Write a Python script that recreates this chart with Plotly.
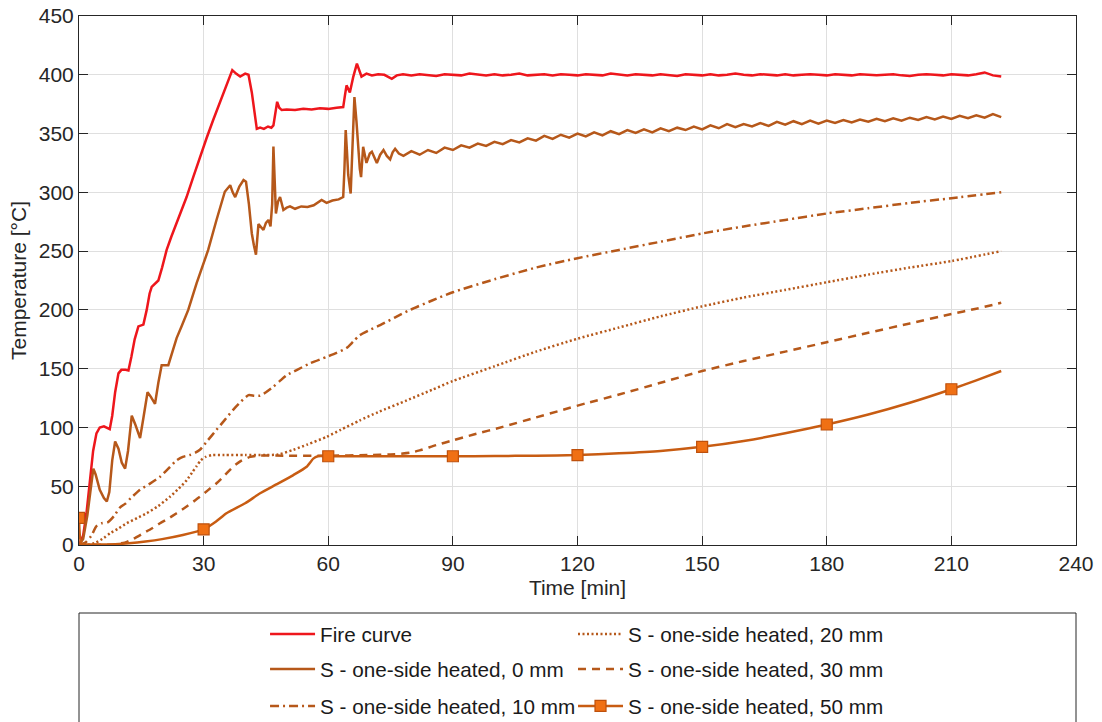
import plotly.graph_objects as go

# ---------------- data ----------------
fire_time = [0, 1, 1.8, 2.6, 3.4, 4.2, 5.0, 6.0, 7.0, 7.4, 8.0, 8.7, 9.5, 10.2, 11.2, 11.9,
             12.6, 13.4, 14.3, 15.5, 16.3, 17.0, 17.5, 18.3, 19.1, 20.0, 21.1, 22.2, 23.5,
             24.7, 25.9, 27.5, 29.1, 30.7, 32.3, 34.0, 35.6, 36.9, 37.8, 38.8, 40.0, 40.8,
             41.6, 42.3, 42.8, 43.6, 44.5, 45.5, 46.3, 46.8, 47.3, 47.7, 48.2, 48.8, 50, 52,
             54, 56, 58, 60, 62, 63.6, 64.0, 64.4, 65.2, 66.0, 66.9, 67.5, 68.0, 69.2, 70.5,
             72, 73.5, 75.3, 76.5,
             78, 80, 82, 84, 86, 88, 90, 92, 94, 96, 98, 100, 102, 104, 106, 108, 110, 112,
             114, 116, 118, 120, 122, 124, 126, 128, 130, 132, 134, 136, 138, 140, 142, 144,
             146, 148, 150, 152, 154, 156, 158, 160, 162, 164, 166, 168, 170, 172, 174, 176,
             178, 180, 182, 184, 186, 188, 190, 192, 194, 196, 198, 200, 202, 204, 206, 208,
             210, 212, 214, 216, 218, 220, 222]
fire_temp = [0, 8, 27, 55, 80, 95, 100, 101, 99, 98.5, 110, 130, 146, 149, 149, 148.5,
             160, 175, 186, 187.5, 200, 214, 219.5, 222, 225, 236, 251, 262, 274,
             285, 296, 313, 330, 346, 361.5, 377, 393, 404, 401, 398.5, 401, 400,
             385, 365, 354, 355, 354, 356, 355, 357, 370, 377, 372, 370, 370.5, 370,
             371, 370.5, 371.5, 371, 372, 372.5, 382, 391, 385, 398, 409.5, 404, 398.5, 401, 399.5,
             400.5, 400, 396.5, 399.5,
             400.5, 399.5, 400.5, 400, 399, 400.5, 400, 399.5, 401, 400, 399.5, 400.5, 399.5, 400, 401, 399.5, 400, 400.5,
             399.5, 400.5, 400, 399.5, 400.5, 400, 399.5, 401, 400, 399.5, 400.5, 400, 399.5, 400.5, 400, 399,
             400.5, 400, 399.5, 400.5, 399.5, 400, 401, 400, 399.5, 400.5, 400, 399.5, 400.5, 399.5, 400, 400.5,
             400, 399.5, 400.5, 400, 399.5, 400.5, 400, 399.5, 400, 400.5, 399.5, 399, 400, 400.5, 400, 399.5,
             400.5, 400, 399.5, 400.5, 402, 399.5, 398.5]

s0_time = [0, 1, 2, 2.8, 3.45, 4, 5, 6, 6.7, 7.3, 8, 8.7, 9.5, 10.3, 11.1, 11.8, 12.7, 13.5,
           14.7, 15.5, 16.5, 17.3, 18.3, 19.1, 19.9, 21.5, 22.5, 23.5, 24.7, 26.3, 28.3, 30,
           31.1, 33.1, 35.1, 36.4, 37.0, 37.6, 38.6, 39.6, 40.2, 40.9, 41.6, 42.1, 42.6, 43.2,
           43.8, 44.4, 45.0, 45.6, 46.1, 46.5, 46.8, 47.1, 47.4, 47.9, 48.4, 49.2, 50, 50.8,
           52, 53.5, 55, 56.5, 57.5, 58.4, 59.6, 61, 62.5, 63.6, 63.9, 64.2, 64.5, 64.8, 65.4,
           65.9, 66.3, 66.8, 67.2, 67.6, 67.9, 68.4, 69.2, 70, 70.5, 71.1, 71.7, 72.5, 73.3,
           74.1, 74.9, 75.5, 76.1, 77, 78.1,
           80, 82, 84, 86, 88, 90, 92, 94, 96, 98, 100, 102, 104, 106, 108, 110, 112, 114,
           116, 118, 120, 122, 124, 126, 128, 130, 132, 134, 136, 138, 140, 142, 144, 146,
           148, 150, 152, 154, 156, 158, 160, 162, 164, 166, 168, 170, 172, 174, 176, 178,
           180, 182, 184, 186, 188, 190, 192, 194, 196, 198, 200, 202, 204, 206, 208, 210,
           212, 214, 216, 218, 220, 222]
s0_temp = [0, 5, 25, 50, 65, 60, 47, 40, 37, 45, 72, 88, 82, 70, 65, 80, 110, 103,
           91, 108, 130, 126, 120, 138, 153, 153, 165, 176, 186, 200, 222.5, 240,
           251, 276.5, 300.5, 306, 300, 296, 305, 310.5, 309, 290, 265, 255, 247, 273,
           270, 268, 274, 276.5, 271, 290, 339, 310, 282, 292, 296, 285, 287, 288,
           286, 288, 287.5, 289, 291, 293.5, 291, 293, 294, 296, 320, 353, 335, 315, 299,
           340, 381, 360, 336, 320, 313, 338.8, 325, 333, 334.5, 330, 325, 332, 336,
           331, 328, 334, 337, 333, 331,
           335, 332, 336, 333.5, 338, 336, 340, 338, 341.5, 339.5, 343, 341, 344.5, 342.5, 346, 344, 348, 345.5,
           349, 346.5, 350, 347.5, 351, 348.5, 352, 349.5, 353, 350.5, 353.5, 351, 354.5, 352, 355, 353,
           356, 353.5, 357, 354.5, 358, 355.5, 358, 356, 359, 356.5, 360, 357.5, 360.5, 358, 361, 358.5,
           361, 359, 361.5, 359.5, 362, 360, 362.5, 360.5, 363, 361, 363.5, 361.5, 364, 362, 364.5, 362.5,
           365, 363, 365.5, 363.5, 366.5, 364]

s10_time = [0, 1.5, 3, 4.2, 5.5, 7, 8.5, 9.9, 11.1, 12.5, 14.7, 17, 19.5, 21.5, 23.5, 25, 26.7,
            28, 29.1, 31, 33.1, 35, 37.1, 39, 40.8, 42.2, 43.6, 45, 46.8, 48.5, 50, 52.5, 55.6,
            59.6, 62, 64.4, 66, 67.6, 70, 72.5, 76, 79.7, 85, 90, 100, 110, 120, 130, 140, 150,
            160, 170, 180, 190, 200, 210, 222]
s10_temp = [0, 2, 8, 16, 18.5, 19.5, 25, 32, 35, 40, 47, 52, 58, 65, 72, 75, 76.6,
            78.5, 81, 89, 98, 106, 115, 122, 127.5, 127, 127, 130, 134.7, 140, 144.5, 149, 154.5,
            160, 163.5, 167.5, 173, 178.5, 183, 187, 193.5, 200, 208, 215, 226, 236, 244, 251, 258, 265,
            271, 276.5, 282, 286.5, 291, 295, 300]

s20_time = [0, 2, 4, 6, 7.5, 9.5, 11.5, 14, 16.3, 19, 21.9, 24, 25.9, 27.3, 28.3, 29.3, 30.5,
            32, 35, 40, 45, 48, 51.6, 55, 59.6, 63, 67.6, 72, 78.9, 85, 90, 100, 110, 120, 130,
            140, 150, 160, 170, 180, 190, 200, 210, 222]
s20_temp = [0, 0, 2, 6, 10, 14, 18.5, 23, 27, 33, 41, 48, 55, 62, 67, 72, 75,
            76.5, 76.5, 76.5, 76.5, 77, 81, 85.5, 92, 98, 106, 113, 123, 132, 139.5, 152, 164.5, 175.5, 185,
            194.5, 203, 210.5, 217, 223.5, 230, 236, 241.5, 250]

s30_time = [0, 3, 8, 11, 13, 15.5, 17.5, 19.5, 21.5, 23.5, 26, 29.1, 31, 33.1, 35, 37.1, 39,
            41.2, 43, 50, 60, 70, 75, 79.7, 82, 86, 90, 95, 102, 110, 116, 122, 130, 140, 150,
            160, 170, 180, 190, 200, 210, 216, 222]
s30_temp = [0, 0, 0.5, 2, 5, 10, 14, 18.5, 22.5, 27, 33, 41, 46.5, 52.5, 59, 66.6, 71.5,
            75, 76, 76, 76, 76.5, 77, 78.5, 80.5, 85, 89, 94, 100.5, 108.5, 114.5, 120.5, 128, 138, 148,
            156.5, 164.5, 172.5, 180.5, 188.5, 196.5, 201, 206]

s50_time = [0, 0.6, 3, 8, 12, 16, 20, 25, 30, 33, 35.5, 40, 43.6, 47.5, 51.6, 54.8, 56.4, 57.5,
            60, 70, 80, 90, 100, 110, 120, 130, 140, 150, 160, 170, 180, 190, 200, 210, 216, 222]
s50_temp = [23, 1, 0.5, 0.5, 1.5, 3, 5, 8.5, 13.3, 20, 27, 35.5, 44, 51.5, 59.5, 66.6, 73.5, 75.5,
            75.5, 75.5, 75.5, 75.5, 75.7, 76, 76.5, 78, 80, 83.5, 88.5, 95, 102.5, 111, 121, 132.5, 140, 148]
s50_marker_times = [0, 30, 60, 90, 120, 150, 180, 210]

x_ticks = [0, 30, 60, 90, 120, 150, 180, 210, 240]
y_ticks = [0, 50, 100, 150, 200, 250, 300, 350, 400, 450]

# ---------------- styles ----------------
RED = "rgb(238,22,28)"
BROWN = "rgb(182,88,26)"
ORANGE_LINE = "rgb(200,92,18)"
MARK_FILL = "rgb(240,112,20)"
MARK_EDGE = "rgb(190,80,12)"
AX = "#262626"
FONT = "Liberation Sans, Arial, Helvetica, sans-serif"
LW = 2.5

fig = go.Figure()

fig.add_trace(go.Scatter(x=fire_time, y=fire_temp, mode="lines", name="Fire curve",
                         line=dict(color=RED, width=LW), legend="legend", showlegend=True))
fig.add_trace(go.Scatter(x=s0_time, y=s0_temp, mode="lines", name="S - one-side heated, 0 mm",
                         line=dict(color=BROWN, width=LW), legend="legend2", showlegend=True))
fig.add_trace(go.Scatter(x=s10_time, y=s10_temp, mode="lines", name="S - one-side heated, 10 mm",
                         line=dict(color=BROWN, width=LW, dash="9px,4px,2px,4px", shape="spline",
                                   smoothing=0.6), legend="legend3", showlegend=True))
fig.add_trace(go.Scatter(x=s20_time, y=s20_temp, mode="lines", name="S - one-side heated, 20 mm",
                         line=dict(color=BROWN, width=LW, dash="2px,2.5px", shape="spline",
                                   smoothing=0.6), legend="legend4", showlegend=True))
fig.add_trace(go.Scatter(x=s30_time, y=s30_temp, mode="lines", name="S - one-side heated, 30 mm",
                         line=dict(color=BROWN, width=LW, dash="8px,6px", shape="spline",
                                   smoothing=0.6), legend="legend5", showlegend=True))
marker_idx = [s50_time.index(t) for t in s50_marker_times]
fig.add_trace(go.Scatter(x=s50_time, y=s50_temp, mode="lines+markers", name="S - one-side heated, 50 mm",
                         line=dict(color=ORANGE_LINE, width=LW, shape="spline", smoothing=0.5),
                         marker=dict(symbol="square", size=11, color=MARK_FILL,
                                     line=dict(color=MARK_EDGE, width=1.2)),
                         selectedpoints=marker_idx,
                         selected=dict(marker=dict(opacity=1)),
                         unselected=dict(marker=dict(opacity=0)),
                         legend="legend6", showlegend=True))

axis_common = dict(showline=True, linecolor=AX, linewidth=1, mirror="allticks",
                   ticks="inside", ticklen=9, tickcolor=AX, tickwidth=1,
                   showgrid=True, gridcolor="#dfdfdf", gridwidth=1, zeroline=False,
                   tickfont=dict(family=FONT, size=21, color=AX))

fig.update_xaxes(range=[0, 240], tickvals=x_ticks, ticktext=[str(v) for v in x_ticks],
                 title=dict(text="Time [min]", font=dict(family=FONT, size=21, color=AX), standoff=6),
                 **axis_common)
fig.update_yaxes(range=[0, 450], tickvals=y_ticks, ticktext=[str(v) for v in y_ticks],
                 title=dict(text="Temperature [°C]", font=dict(family=FONT, size=21, color=AX), standoff=6),
                 **axis_common)

# two legend columns, three rows; one legend per entry
col_x = [0.1866, 0.4955]
row_y = [(545 - 634) / 529, (545 - 669) / 529, (545 - 706) / 529]
legend_common = dict(orientation="h", xanchor="left", yanchor="middle",
                     bgcolor="rgba(0,0,0,0)", borderwidth=0, itemwidth=45,
                     font=dict(family=FONT, size=20.7, color="#1a1a1a"))
legend_layout = {}
names = ["legend", "legend2", "legend3", "legend4", "legend5", "legend6"]
for i, nm in enumerate(names):
    legend_layout[nm] = dict(x=col_x[i // 3], y=row_y[i % 3], **legend_common)

fig.update_layout(
    width=1102, height=722,
    showlegend=True,
    margin=dict(l=79, r=26, t=16, b=177, autoexpand=False),
    paper_bgcolor="white", plot_bgcolor="white",
    font=dict(family=FONT, size=21, color=AX),
    shapes=[dict(type="rect", xref="paper", yref="paper", x0=0, x1=1,
                 y0=(545 - 613) / 529, y1=(545 - 760) / 529,
                 line=dict(color=AX, width=1), fillcolor="rgba(0,0,0,0)", layer="below")],
    **legend_layout,
)

fig.write_html("out.html")
